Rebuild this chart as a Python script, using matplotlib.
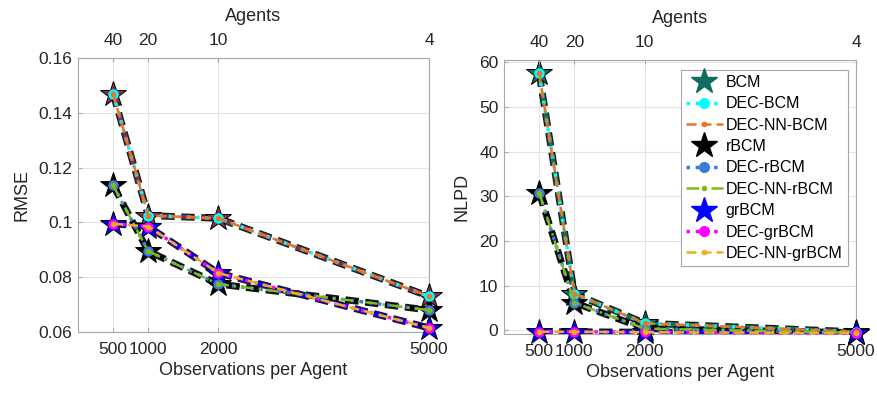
import matplotlib
matplotlib.use("Agg")
import matplotlib.pyplot as plt
import matplotlib.patheffects as pe
from matplotlib.lines import Line2D

plt.rcParams['font.family'] = ['Liberation Sans', 'DejaVu Sans']

obs = [500, 1000, 2000, 5000]
agents_labels = ['40', '20', '10', '4']

# RMSE (left)
rmse_bcm = [0.147, 0.1025, 0.1015, 0.073]
rmse_rbcm = [0.1135, 0.0895, 0.0775, 0.068]
rmse_grbcm = [0.0995, 0.0985, 0.0815, 0.0615]

# NLPD (right)
nlpd_bcm = [57.5, 8.2, 1.6, -0.3]
nlpd_rbcm = [30.8, 6.2, 0.4, -0.5]
nlpd_grbcm = [-0.3, -0.3, -0.4, -0.6]

labels = ['BCM', 'DEC-BCM', 'DEC-NN-BCM', 'rBCM', 'DEC-rBCM', 'DEC-NN-rBCM',
          'grBCM', 'DEC-grBCM', 'DEC-NN-grBCM']

dec_colors = ['#00FFFF', '#3A7BD5', '#FF00FF']
nn_colors = ['#E8762A', '#7DBB1E', '#EDB120']
nn_styles = [(0, (4, 2)), (0, (5, 2, 1, 2)), (0, (4, 2))]

GRID = '#E3E3E3'
TXT = '#262626'
SPINE = '#A8A8A8'


def draw_group(ax, y, star_color, dec_c, nn_c, nn_ls, lbls):
    # thick outlined dashed base line
    ax.plot(obs, y, linestyle=(0, (3, 1.5)), lw=3.2, color=star_color, zorder=3,
            path_effects=[pe.Stroke(linewidth=5, foreground='#1a1a1a'), pe.Normal()])
    ax.plot(obs, y, linestyle='none', marker='*', ms=19, mfc=star_color, mec='k',
            mew=0.7, zorder=3.5, clip_on=False)
    ax.plot(obs, y, linestyle=':', lw=2.5, color=dec_c, marker='o', ms=6.5,
            mfc=dec_c, mec=dec_c, zorder=4, clip_on=False)
    ax.plot(obs, y, linestyle=nn_ls, lw=1.8, color=nn_c, marker='.', ms=6,
            mfc=nn_c, mec=nn_c, zorder=5, clip_on=False)
    h1 = Line2D([], [], linestyle='none', marker='*', ms=19, mfc=star_color, mec=star_color,
                label=lbls[0])
    h2 = Line2D([], [], linestyle=':', lw=2.5, color=dec_c, marker='o', ms=7,
                mfc=dec_c, mec=dec_c, label=lbls[1])
    h3 = Line2D([], [], linestyle=nn_ls, lw=1.8, color=nn_c, marker='.', ms=6,
                mfc=nn_c, mec=nn_c, label=lbls[2])
    return [h1, h2, h3]


def style_axes(ax, ylim, yticks, yticklabels, ylabel):
    ax.set_xlim(0, 5000)
    ax.set_ylim(*ylim)
    ax.set_xticks(obs)
    ax.set_xticklabels([str(o) for o in obs])
    ax.set_yticks(yticks)
    ax.set_yticklabels(yticklabels)
    ax.grid(True, color=GRID, lw=0.8)
    ax.set_axisbelow(True)
    for s in ax.spines.values():
        s.set_color(SPINE)
        s.set_linewidth(0.8)
    ax.tick_params(direction='in', length=3, labelcolor=TXT, labelsize=12.5,
                   top=False, right=False, color=SPINE, pad=4)
    ax.tick_params(axis='x', pad=7)
    ax.set_xlabel('Observations per Agent', fontsize=13, color=TXT, labelpad=4)
    ax.set_ylabel(ylabel, fontsize=13, color=TXT, labelpad=6)
    top = ax.twiny()
    top.set_xlim(0, 5000)
    top.set_xticks(obs)
    top.set_xticklabels(agents_labels)
    top.tick_params(direction='in', length=3, labelcolor=TXT, labelsize=12.5,
                    color=SPINE, pad=7)
    top.set_xlabel('Agents', fontsize=13, color=TXT, labelpad=9)
    for s in top.spines.values():
        s.set_visible(False)


fig = plt.figure(figsize=(8.78, 3.93), dpi=100)
ax1 = fig.add_axes([78 / 878, 1 - 332 / 393, 351 / 878, 274 / 393])
ax2 = fig.add_axes([504 / 878, 1 - 334 / 393, 352 / 878, 274 / 393])

# Left panel
draw_group(ax1, rmse_bcm, '#7E2F4E', dec_colors[0], nn_colors[0], nn_styles[0], labels[0:3])
draw_group(ax1, rmse_rbcm, '#000000', dec_colors[1], nn_colors[1], nn_styles[1], labels[3:6])
draw_group(ax1, rmse_grbcm, '#0000FF', dec_colors[2], nn_colors[2], nn_styles[2], labels[6:9])
style_axes(ax1, (0.06, 0.16), [0.06, 0.08, 0.10, 0.12, 0.14, 0.16],
           ['0.06', '0.08', '0.1', '0.12', '0.14', '0.16'], 'RMSE')

# Right panel
h = []
h += draw_group(ax2, nlpd_bcm, '#0F6E5E', dec_colors[0], nn_colors[0], nn_styles[0], labels[0:3])
h += draw_group(ax2, nlpd_rbcm, '#000000', dec_colors[1], nn_colors[1], nn_styles[1], labels[3:6])
h += draw_group(ax2, nlpd_grbcm, '#0000FF', dec_colors[2], nn_colors[2], nn_styles[2], labels[6:9])
style_axes(ax2, (-0.8, 60.5), [0, 10, 20, 30, 40, 50, 60],
           ['0', '10', '20', '30', '40', '50', '60'], 'NLPD')

leg = ax2.legend(handles=h, loc='upper right', bbox_to_anchor=(0.985, 0.975),
                 fontsize=11.5, handlelength=2.3, handletextpad=0.2,
                 labelspacing=0.4, borderpad=0.3, fancybox=False,
                 framealpha=1, edgecolor=SPINE, borderaxespad=0.2)
leg.get_frame().set_linewidth(0.8)
leg.set_zorder(10)

fig.savefig('out.png', dpi=100)
